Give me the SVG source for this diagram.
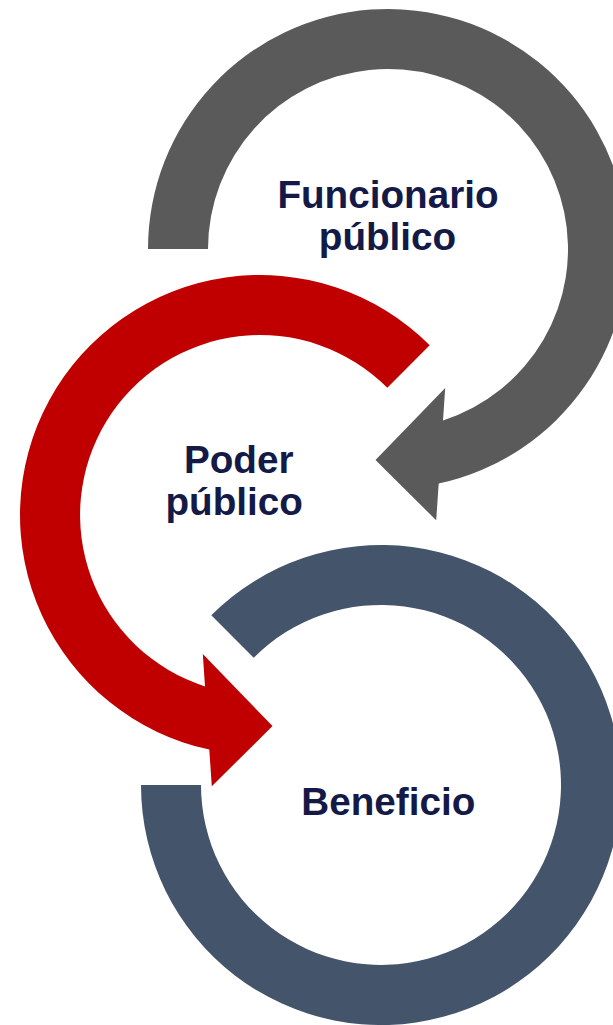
<svg xmlns="http://www.w3.org/2000/svg" width="613" height="1025" viewBox="0 0 613 1025">
<style>
.lbl{font-family:"Liberation Sans",Arial,sans-serif;font-weight:bold;font-size:38.67px;fill:#141A48;text-anchor:middle}
</style>
<rect width="613" height="1025" fill="#ffffff"/>
<g id="connectors">
<path id="arrow-gray" fill="#5A5A5A" d="M148,249 A240,240 0 1 1 438.7,483.6 L436.2,520.3 L375.5,460 L445.2,388 L443,420.4 A180,180 0 1 0 208,249 Z"/>
<path id="arrow-red" fill="#C00000" d="M429.7,345.3 A240,240 0 1 0 209.3,749.6 L211.8,786.3 L272.5,726 L202.8,654 L205,686.4 A180,180 0 1 1 387.3,387.7 Z"/>
<path id="arrow-blue" fill="#44546A" d="M211.3,615.3 A240,240 0 1 1 141,785 L201,785 A180,180 0 1 0 253.7,657.7 Z"/>
</g>
<g id="node-funcionario">
<text class="lbl" x="388" y="208">Funcionario</text>
<text class="lbl" x="387.5" y="250">público</text>
</g>
<g id="node-poder">
<text class="lbl" x="238.7" y="473">Poder</text>
<text class="lbl" x="234.2" y="515">público</text>
</g>
<g id="node-beneficio">
<text class="lbl" x="388.3" y="815">Beneficio</text>
</g>
</svg>
